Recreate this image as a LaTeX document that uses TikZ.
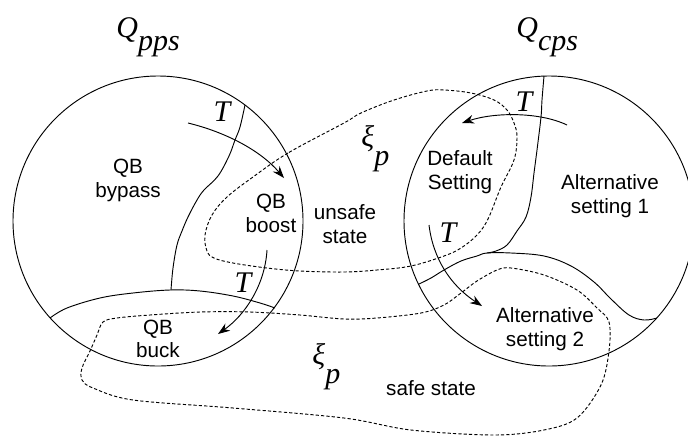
\documentclass[tikz,border=0pt]{standalone}
\usepackage{fontspec}
\setmainfont{Liberation Sans}
\newfontfamily\tms{Liberation Serif}
\usetikzlibrary{arrows.meta}
\begin{document}
\begin{tikzpicture}[x=0.75pt,y=-0.75pt,
  line width=0.7pt,
  region/.style={circle,draw,minimum size=217.5pt,inner sep=0pt},
  lbl/.style={align=center,inner sep=0pt,font=\fontsize{15.5pt}{17.7pt}\selectfont},
  sym/.style={inner sep=0pt,font=\tms\itshape\fontsize{22.5pt}{24pt}\selectfont},
  trans/.style={-{Stealth[length=9pt,width=6.5pt]}},
  setline/.style={dash pattern=on 2.4pt off 1.6pt}]
\useasboundingbox (0,0) rectangle (688,436);

% state spaces
\node[region] (pps) at (158,221) {};
\node[region] (cps) at (549,221) {};

% headings
\node[sym,anchor=base west] (Qpps) at (116,37) {Q\raisebox{-0.45em}{pps}};
\node[sym,anchor=base west] (Qcps) at (516,37) {Q\raisebox{-0.45em}{cps}};

% region boundaries, left
\draw plot[smooth,tension=0.6] coordinates {(245,105) (240,127) (235,140) (229,156) (218,176) (204,190) (197,200) (188,217) (182,231) (177,245) (173,268) (171,290)};
\draw plot[smooth,tension=0.6] coordinates {(50,318) (67,308) (100,298) (133,293) (170,290) (200,291) (233,296) (260,303) (275,308)};

% region boundaries, right
\draw plot[smooth,tension=0.6] coordinates {(544,76) (542,100) (541,117) (537,150) (534,173) (531,197) (526,217) (517,231) (507,245) (496,251) (487,253)};
\draw plot[smooth,tension=0.6] coordinates {(419,284) (431,278) (444,270) (461,261) (477,256) (487,253) (511,253) (544,256) (571,266) (594,282) (611,299) (629,315) (644,320) (657,318)};

% unsafe set
\draw[setline] plot[smooth cycle,tension=0.6] coordinates {(344,123) (288,153) (253,177) (227,197) (212,215) (205,235) (207,251) (214,258) (233,263) (267,268) (300,271) (344,272) (377,270) (411,266) (444,256) (461,248) (477,235) (488,219) (501,187) (514,160) (517,137) (514,123) (507,110) (494,100) (471,93) (444,90) (427,91) (394,100) (361,113)};

% safe set
\draw[setline] plot[smooth cycle,tension=0.55] coordinates {(103,322) (117,318) (150,315) (200,312) (250,312) (300,315) (344,319) (377,318) (421,313) (444,305) (461,293) (477,281) (497,270) (511,268) (544,275) (577,290) (597,308) (609,322) (609,351) (601,385) (577,418) (544,430) (494,435) (411,430) (344,418) (233,408) (133,400) (93,388) (82,380) (82,368) (90,351) (97,335)};

% region labels
\node[lbl] (bypass) at (128,180.5) {QB\\bypass};
\node[lbl] (boost) at (271,213.5) {QB\\boost};
\node[lbl] (buck) at (158,339) {QB\\buck};
\node[lbl] (unsafe) at (345,224) {unsafe\\state};
\node[lbl] (safe) at (431,388) {safe state};
\node[lbl] (default) at (460,172) {Default\\Setting};
\node[lbl] (alt1) at (610,196) {Alternative\\setting 1};
\node[lbl] (alt2) at (545,329) {Alternative\\setting 2};

% set labels
\node[sym,anchor=base west] (xi1) at (361,146) {ξ\raisebox{-0.65em}{p}};
\node[sym,anchor=base west] (xi2) at (312,364) {ξ\raisebox{-0.65em}{p}};

% transitions
\coordinate (a1s) at (188,123); \coordinate (a1e) at (284,178);
\coordinate (a2s) at (267,250); \coordinate (a2e) at (218,334);
\coordinate (a3s) at (567,125); \coordinate (a3e) at (462,123);
\coordinate (a4s) at (429,225); \coordinate (a4e) at (482,306);
\draw[trans] (a1s) .. controls (225,132) and (260,150) .. (a1e);
\draw[trans] (a2s) .. controls (265,285) and (245,315) .. (a2e);
\draw[trans] (a3s) .. controls (540,112) and (495,112) .. (a3e);
\draw[trans] (a4s) .. controls (433,258) and (450,285) .. (a4e);

\node[sym] (T1) at (222,112) {T};
\node[sym] (T2) at (243,283) {T};
\node[sym] (T3) at (524,102) {T};
\node[sym] (T4) at (448,233) {T};
\end{tikzpicture}
\end{document}
